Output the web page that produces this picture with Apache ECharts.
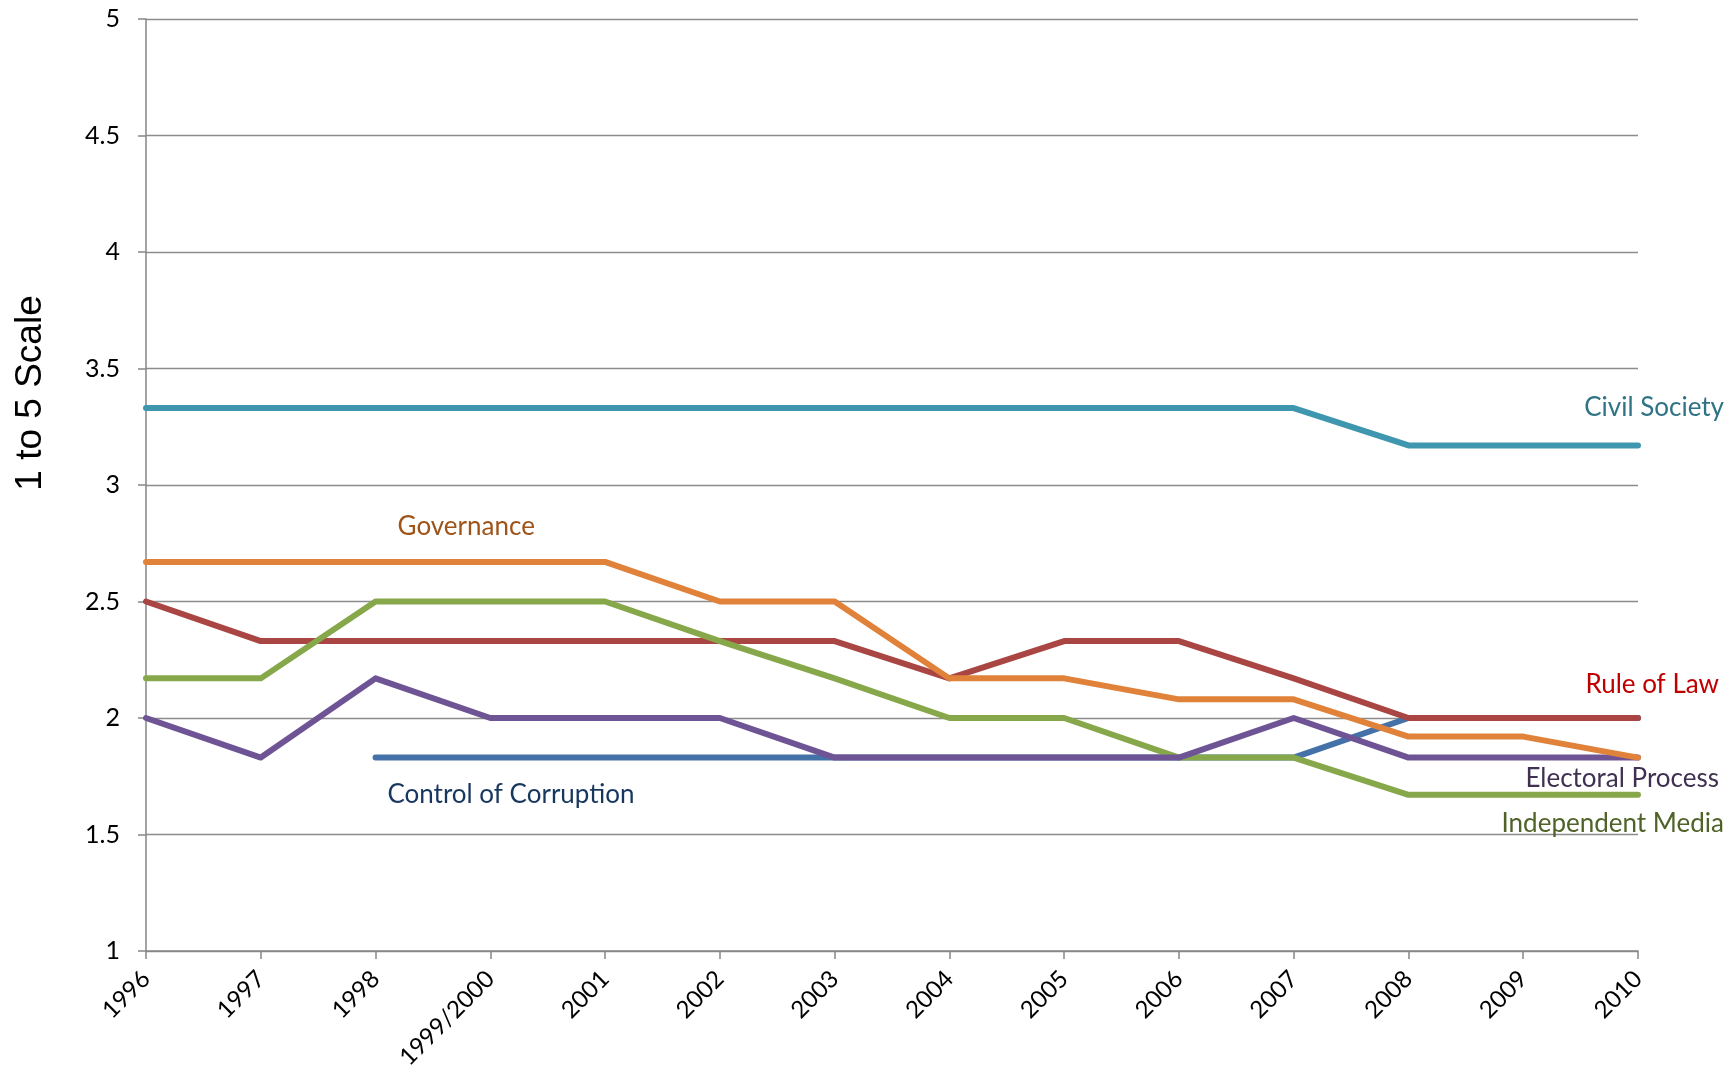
<!DOCTYPE html>
<html>
<head>
<meta charset="utf-8">
<script src="https://cdn.jsdelivr.net/npm/echarts@6/dist/echarts.min.js"></script>
<style>
html,body{margin:0;padding:0;background:#fff;}
#chart{width:1736px;height:1072px;}
</style>
</head>
<body>
<div id="chart"></div>
<script>
const categories = ['1996','1997','1998','1999/2000','2001','2002','2003','2004','2005','2006','2007','2008','2009','2010'];

const controlOfCorruption = [null, null, 1.83, 1.83, 1.83, 1.83, 1.83, 1.83, 1.83, 1.83, 1.83, 2.0, 2.0, 2.0];
const ruleOfLaw          = [2.5, 2.33, 2.33, 2.33, 2.33, 2.33, 2.33, 2.17, 2.33, 2.33, 2.17, 2.0, 2.0, 2.0];
const independentMedia   = [2.17, 2.17, 2.5, 2.5, 2.5, 2.33, 2.17, 2.0, 2.0, 1.83, 1.83, 1.67, 1.67, 1.67];
const electoralProcess   = [2.0, 1.83, 2.17, 2.0, 2.0, 2.0, 1.83, 1.83, 1.83, 1.83, 2.0, 1.83, 1.83, 1.83];
const civilSociety       = [3.33, 3.33, 3.33, 3.33, 3.33, 3.33, 3.33, 3.33, 3.33, 3.33, 3.33, 3.17, 3.17, 3.17];
const governance         = [2.67, 2.67, 2.67, 2.67, 2.67, 2.5, 2.5, 2.17, 2.17, 2.08, 2.08, 1.92, 1.92, 1.83];

const yTitle = '1 to 5 Scale';

const seriesDefs = [
  {name:'Control of Corruption', data:controlOfCorruption, color:'#4472A8'},
  {name:'Rule of Law',           data:ruleOfLaw,           color:'#A94542'},
  {name:'Independent Media',     data:independentMedia,    color:'#87A84A'},
  {name:'Electoral Process',     data:electoralProcess,    color:'#6E5494'},
  {name:'Civil Society',         data:civilSociety,        color:'#3F97AF'},
  {name:'Governance',            data:governance,          color:'#E0823A'}
];

// label anchors in data space: [category position, value], alignment, pixel nudge, text colour
const labelSpecs = [
  {text:'Civil Society',         at:[13, 3.33],   align:'right',  dx:86, color:'#2F7385'},
  {text:'Governance',            at:[2.79, 2.82], align:'center', dx:0,  color:'#9E5419'},
  {text:'Rule of Law',           at:[13, 2.145],  align:'right',  dx:81, color:'#C00000'},
  {text:'Electoral Process',     at:[13, 1.74],   align:'right',  dx:81, color:'#403152'},
  {text:'Independent Media',     at:[13, 1.545],  align:'right',  dx:86, color:'#4F6228'},
  {text:'Control of Corruption', at:[3.18, 1.673],align:'center', dx:0,  color:'#17375E'}
];

const chart = echarts.init(document.getElementById('chart'), null, {renderer:'canvas'});
const FONT = 'Lato, "Open Sans", sans-serif';

chart.setOption({
  animation:false,
  backgroundColor:'#ffffff',
  grid:{left:146, right:98, top:19, bottom:120, containLabel:false},
  xAxis:{
    type:'category',
    data:categories,
    boundaryGap:false,
    axisLine:{lineStyle:{color:'#868686', width:1.5}},
    axisTick:{show:true, length:8, lineStyle:{color:'#868686', width:1.5}},
    axisLabel:{rotate:45, fontSize:24, fontFamily:FONT, color:'#000', margin:24, interval:0},
    splitLine:{show:false}
  },
  yAxis:{
    type:'value',
    min:1, max:5, interval:0.5,
    axisLine:{show:true, lineStyle:{color:'#868686', width:1.5}},
    axisTick:{show:true, length:8, lineStyle:{color:'#868686', width:1.5}},
    axisLabel:{fontSize:25, fontFamily:FONT, color:'#000', margin:26},
    splitLine:{show:true, lineStyle:{color:'#8C8C8C', width:1.3}}
  },
  series: seriesDefs.map(s => ({
    name:s.name,
    type:'line',
    data:s.data,
    symbol:'none',
    smooth:false,
    connectNulls:false,
    lineStyle:{color:s.color, width:6, cap:'round', join:'round'},
    itemStyle:{color:s.color}
  }))
});

function toPixel(pos, val){
  const i0 = Math.floor(pos), i1 = Math.min(i0 + 1, categories.length - 1);
  const a = chart.convertToPixel({gridIndex:0}, [i0, val]);
  const b = chart.convertToPixel({gridIndex:0}, [i1, val]);
  const t = pos - i0;
  return [a[0] + (b[0] - a[0]) * t, a[1]];
}

const graphics = labelSpecs.map(l => {
  const p = toPixel(l.at[0], l.at[1]);
  return {
    type:'text',
    x:p[0] + l.dx,
    y:p[1],
    style:{text:l.text, fill:l.color, font:'26px ' + FONT, align:l.align, verticalAlign:'middle'}
  };
});
graphics.push({
  type:'text',
  x:31, y:393,
  rotation:Math.PI/2,
  style:{text:yTitle, fill:'#000', font:'37px "Liberation Sans", Arial, sans-serif', align:'center', verticalAlign:'middle'}
});
chart.setOption({graphic:graphics});
</script>
</body>
</html>
